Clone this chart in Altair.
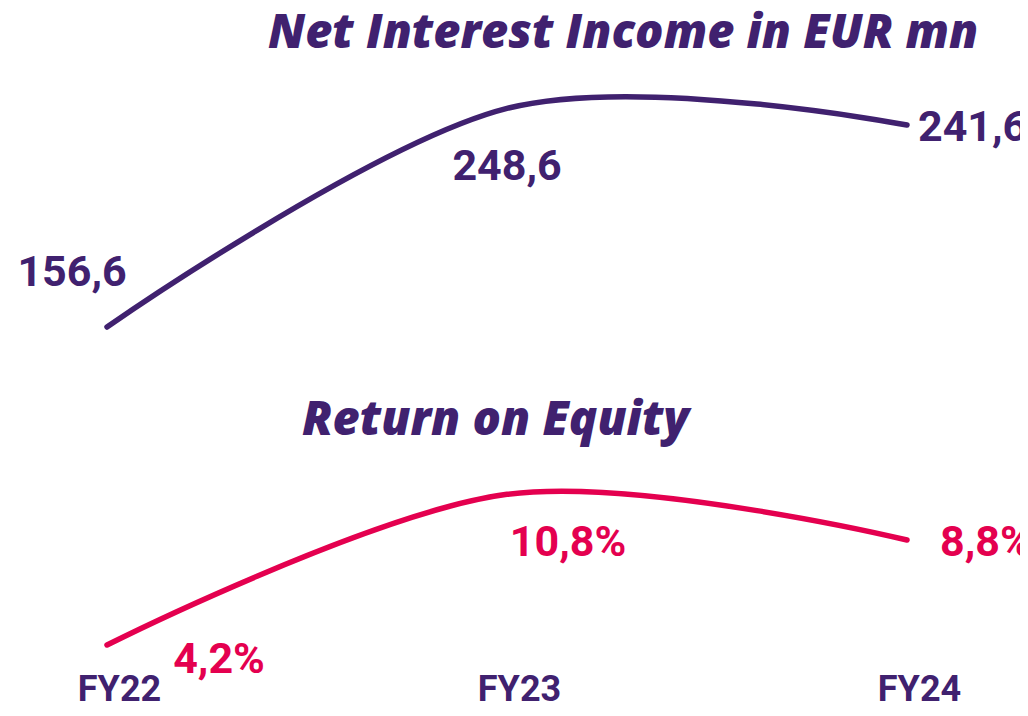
import altair as alt
import pandas as pd

# ---- data ----
years = ["FY22", "FY23", "FY24"]
nii = [156.6, 248.6, 241.6]
roe = [4.2, 10.8, 8.8]
nii_text = ["156,6", "248,6", "241,6"]
roe_text = ["4,2%", "10,8%", "8,8%"]
title_top = "Net Interest Income in EUR mn"
title_bottom = "Return on Equity"

# ---- styles ----
PURPLE = "#40216f"
PINK = "#e4004f"
NUM_FONT = "Roboto"
TITLE_FONT = "Open Sans"
# label placement (dx, dy, align) per point
NII_LABEL_STYLE = [(-35, -54, "center"), (0, 59, "center"), (11, 3, "left")]
ROE_LABEL_STYLE = [(112, 15, "center"), (61, 49, "center"), (33, 3, "left")]

W, H = 1012, 668

df_nii = pd.DataFrame({"year": years, "value": nii, "label": nii_text})
df_roe = pd.DataFrame({"year": years, "value": roe, "label": roe_text})

x_enc = alt.X(
    "year:N",
    sort=years,
    scale=alt.Scale(type="point", range=[99, 899], padding=0),
    axis=alt.Axis(
        title=None, domain=False, ticks=False, grid=False, labelAngle=0,
        labelFont=NUM_FONT, labelFontSize=36, labelFontWeight="bold",
        labelColor=PURPLE, labelOffset=12, labelPadding=-4,
    ),
)

nii_scale = alt.Scale(domain=[9.75, 290.83], zero=False, nice=False)
roe_scale = alt.Scale(domain=[2.842, 32.107], zero=False, nice=False)


def line(df, scale, color):
    return alt.Chart(df).mark_line(
        interpolate="cardinal", color=color, strokeWidth=5.5, strokeCap="round"
    ).encode(x=x_enc, y=alt.Y("value:Q", scale=scale, axis=None))


def labels(df, scale, color, styles):
    out = []
    for yr, (dx, dy, align) in zip(years, styles):
        out.append(
            alt.Chart(df).transform_filter(alt.datum.year == yr).mark_text(
                font=NUM_FONT, fontSize=43, fontWeight="bold", color=color,
                dx=dx, dy=dy, align=align, baseline="middle",
            ).encode(x=x_enc, y=alt.Y("value:Q", scale=scale, axis=None), text="label:N")
        )
    return out


def title(txt, x, y):
    return alt.Chart(pd.DataFrame({"t": [txt]})).mark_text(
        font=TITLE_FONT, fontSize=47, fontWeight=800, fontStyle="italic",
        color=PURPLE, align="left", baseline="alphabetic",
    ).encode(x=alt.value(x), y=alt.value(y), text="t:N")


layers = (
    [line(df_nii, nii_scale, PURPLE)]
    + labels(df_nii, nii_scale, PURPLE, NII_LABEL_STYLE)
    + [line(df_roe, roe_scale, PINK)]
    + labels(df_roe, roe_scale, PINK, ROE_LABEL_STYLE)
    + [title(title_top, 260, 40), title(title_bottom, 294, 427)]
)

chart = (
    alt.layer(*layers)
    .resolve_scale(y="independent")
    .properties(
        width=W, height=H,
        autosize=alt.AutoSizeParams(type="none"),
        padding={"left": 0, "top": 0, "right": 0, "bottom": 32},
        background="white",
    )
    .configure_view(stroke=None)
)

chart.save("out.html", embed_options={"renderer": "svg", "actions": False})
